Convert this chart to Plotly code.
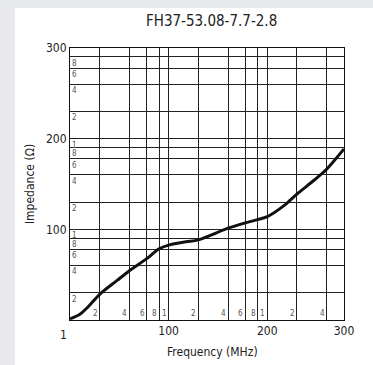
import math
import plotly.graph_objects as go

# Data
freq_mhz = [1, 1.25, 1.5, 2, 3, 4, 6, 8, 10, 15, 20, 40, 60, 80, 100, 150, 200, 300, 400, 600]
impedance = [1.03, 1.15, 1.37, 1.92, 2.73, 3.5, 4.75, 6.1, 6.7, 7.3, 7.65, 10.3, 11.8, 12.8, 13.8, 18.5, 24.5, 35, 46, 77]

x_grid = [1, 2, 4, 6, 8, 10, 20, 40, 60, 80, 100, 200, 400, 600]
x_ticktext = ["", "", "", "", "", "100", "", "", "", "", "200", "", "", "300"]
x_minor_vals = [2, 4, 6, 8, 10, 20, 40, 60, 80, 100, 200, 400]
x_minor_text = ["2", "4", "6", "8", "1", "2", "4", "6", "8", "1", "2", "4"]

y_grid = [1, 2, 4, 6, 8, 10, 20, 40, 60, 80, 100, 200, 400, 600, 800, 1000]
y_ticktext = ["", "", "", "", "", "100", "", "", "", "", "200", "", "", "", "", "300"]
y_minor_vals = [2, 4, 6, 8, 10, 20, 40, 60, 80, 100, 200, 400, 600, 800]
y_minor_text = ["2", "4", "6", "8", "1", "2", "4", "6", "8", "1", "2", "4", "6", "8"]

title_text = "FH37-53.08-7.7-2.8"
x_title = "Frequency (MHz)"
y_title = "Impedance (Ω)"

FONT = "DejaVu Sans Condensed, Liberation Sans Narrow, Arial, sans-serif"
GRID = "#222222"

L, R, T, B = 70, 344, 48, 320
W, H = 373, 365


def px(x):
    return (x - L) / (R - L)


def py(y):
    return (B - y) / (B - T)


fig = go.Figure()
fig.add_trace(go.Scatter(
    x=freq_mhz, y=impedance, mode="lines",
    line=dict(color="#111111", width=3, shape="spline", smoothing=0.8),
    showlegend=False, hoverinfo="skip",
))

annotations = []
for v, t in zip(x_minor_vals, x_minor_text):
    annotations.append(dict(x=math.log10(v), y=0, xref="x", yref="paper",
                            text=t, showarrow=False, xanchor="right", yanchor="bottom",
                            xshift=0, yshift=0, font=dict(family=FONT, size=8, color="#555")))
for v, t in zip(y_minor_vals, y_minor_text):
    annotations.append(dict(x=0, y=math.log10(v), xref="paper", yref="y",
                            text=t, showarrow=False, xanchor="left", yanchor="top",
                            xshift=0, yshift=0, font=dict(family=FONT, size=8, color="#555")))
annotations.append(dict(x=px(63), y=py(335), xref="paper", yref="paper", text="1",
                        showarrow=False, xanchor="center", yanchor="middle",
                        font=dict(family=FONT, size=12, color="#222")))
annotations.append(dict(x=px(212), y=py(352), xref="paper", yref="paper", text=x_title,
                        showarrow=False, xanchor="center", yanchor="middle",
                        font=dict(family=FONT, size=12, color="#222")))
annotations.append(dict(x=px(211), y=py(21), xref="paper", yref="paper", text=title_text,
                        showarrow=False, xanchor="center", yanchor="middle",
                        font=dict(family=FONT, size=15, color="#222")))

fig.update_layout(
    width=W, height=H,
    margin=dict(l=L, r=W - R, t=T, b=H - B),
    paper_bgcolor="white",
    plot_bgcolor="white",
    font=dict(family=FONT, size=12, color="#222"),
    xaxis=dict(type="log", range=[0, math.log10(600)],
               tickmode="array", tickvals=x_grid, ticktext=x_ticktext,
               showgrid=True, gridcolor=GRID, gridwidth=1,
               showline=True, linecolor="#111", linewidth=1, mirror=True,
               ticks="", zeroline=False, tickfont=dict(size=12)),
    yaxis=dict(type="log", range=[0, 3],
               tickmode="array", tickvals=y_grid, ticktext=y_ticktext,
               showgrid=True, gridcolor=GRID, gridwidth=1,
               showline=True, linecolor="#111", linewidth=1, mirror=True,
               ticks="", zeroline=False, tickfont=dict(size=12),
               title=dict(text=y_title, standoff=8, font=dict(size=12))),
    annotations=annotations,
    shapes=[
        dict(type="rect", xref="paper", yref="paper",
             x0=px(0), x1=px(15), y0=py(H), y1=py(0),
             fillcolor="#e8e9eb", line=dict(width=0), layer="below"),
        dict(type="rect", xref="paper", yref="paper",
             x0=px(0), x1=px(W), y0=py(8), y1=py(0),
             fillcolor="#e8e9eb", line=dict(width=0), layer="below"),
    ],
)

fig.write_html("out.html", config={"displayModeBar": False},
               post_script="document.body.style.margin='0';document.body.style.overflow='hidden';")
